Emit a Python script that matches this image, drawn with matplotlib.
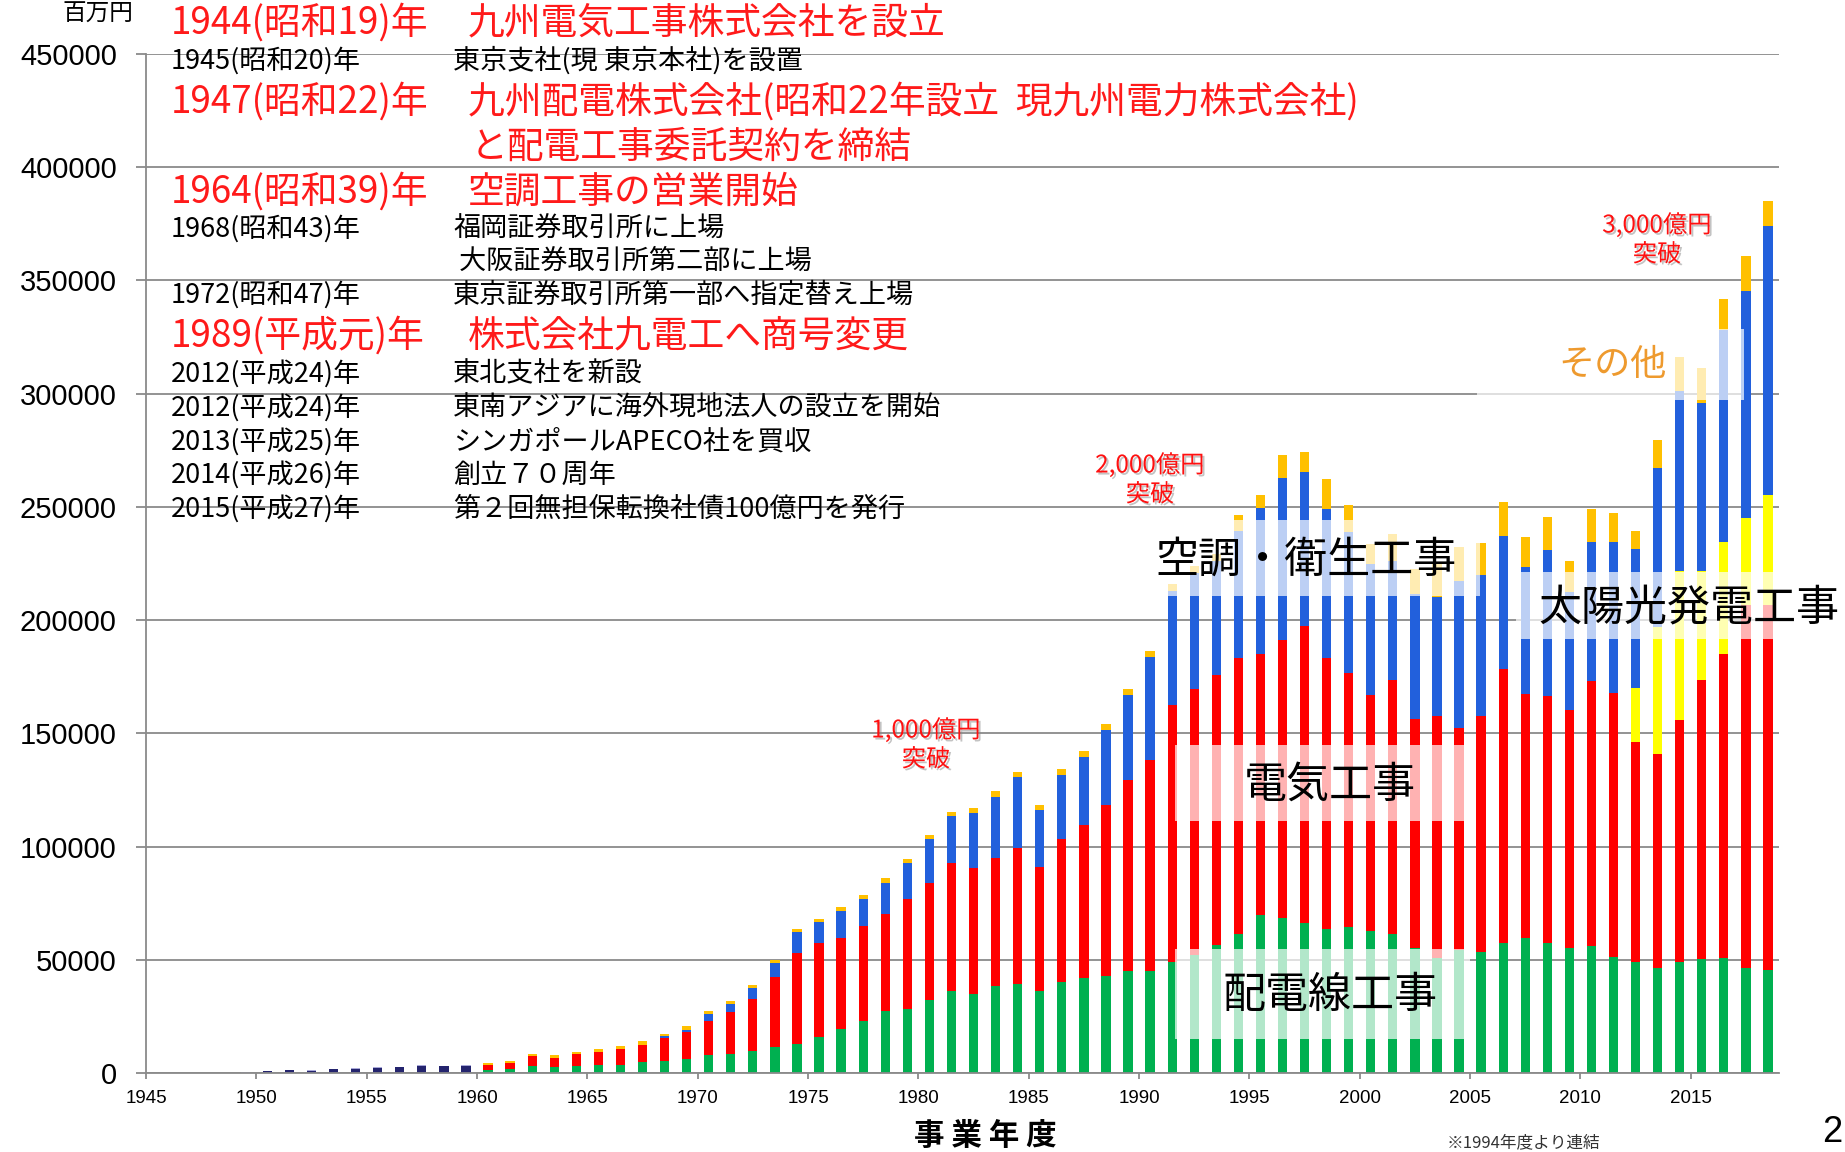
import numpy as np
import matplotlib
matplotlib.use("Agg")
import matplotlib.pyplot as plt
from matplotlib.patches import Rectangle
import matplotlib.patheffects as pe

plt.rcParams["font.family"] = ["Noto Sans CJK JP", "DejaVu Sans"]

W, H = 1845, 1152
LAT = ["Liberation Sans", "DejaVu Sans"]

# ---- data (百万円) ----
early_years = list(range(1949, 1960))
early_total = [0, 740, 1200, 1030, 1620, 1900, 2200, 2500, 3100, 2950, 3250]
early_cap   = [600, 250, 250, 250, 250, 250, 250, 250, 250, 250, 250]

years = list(range(1960, 2019))
haiden = [1500, 1900, 3200, 2650, 2900, 3400, 3700, 4700, 5150, 6200,
          7800, 8500, 9850, 11300, 12900, 15700, 19400, 23100, 27200, 28400,
          32200, 36300, 34800, 38200, 39300, 36100, 40000, 41900, 43000, 44900,
          45200, 49200, 51900, 56400, 61300, 69800, 68500, 66300, 63500, 64400,
          62600, 61600, 55000, 50800, 54200, 53600, 57500, 59800, 57200, 55000,
          56000, 51200, 48900, 46400, 49100, 50400, 50900, 46400, 45600]
denki = [1900, 2400, 4150, 3950, 5300, 5900, 7000, 7500, 10150, 11700,
         15300, 18400, 22750, 30900, 39900, 41500, 40400, 41600, 43200, 48300,
         51600, 56500, 55600, 56600, 59900, 54900, 63300, 67800, 75200, 84500,
         93000, 113400, 117500, 119400, 121900, 115300, 122700, 131300, 119700, 112300,
         104200, 111800, 101300, 106800, 98300, 104000, 121100, 107400, 109500, 105100,
         117300, 116400, 97300, 94400, 106900, 123200, 134300, 160400, 161200]
taiyo = [0] * 52 + [23600, 56300, 65600, 48000, 49500, 38200, 48500]
kucho = [0, 0, 0, 0, 0, 0, 0, 300, 900, 1200,
         2800, 3500, 4900, 6300, 9400, 9400, 11800, 12000, 13500, 15900,
         19400, 20500, 24500, 27000, 31300, 25000, 28500, 29900, 33200, 37600,
         45400, 50400, 51600, 50200, 56200, 64200, 71700, 67800, 65800, 62300,
         57900, 52800, 55200, 52700, 64900, 62300, 58600, 56300, 64300, 52100,
         61000, 67100, 61400, 70100, 79400, 74300, 93300, 100500, 118800]
sonota = [1000, 1100, 1050, 1200, 1200, 1300, 1200, 1500, 1000, 1500,
          1300, 1350, 1300, 1300, 1300, 1600, 1800, 1800, 2100, 1900,
          2100, 1900, 2100, 2600, 2400, 2400, 2400, 2500, 2600, 2400,
          2600, 2900, 2700, 3000, 6900, 5800, 9900, 9000, 13500, 11900,
          8800, 11800, 11000, 14400, 14700, 14100, 15000, 13000, 14700, 14000,
          14700, 12400, 8200, 12500, 15200, 15400, 13700, 15400, 10900]

series = [(haiden, "#00B050"), (denki, "#FF0000"), (taiyo, "#FFFF00"),
          (kucho, "#2260DC"), (sonota, "#FFC000")]

# company history shown top-left: (year text, event, big red?)
history = [
    ("1944(昭和19)年", "九州電気工事株式会社を設立", True),
    ("1945(昭和20)年", "東京支社(現 東京本社)を設置", False),
    ("1947(昭和22)年", "九州配電株式会社(昭和22年設立  現九州電力株式会社)", True),
    ("", "と配電工事委託契約を締結", True),
    ("1964(昭和39)年", "空調工事の営業開始", True),
    ("1968(昭和43)年", "福岡証券取引所に上場", False),
    ("", " 大阪証券取引所第二部に上場", False),
    ("1972(昭和47)年", "東京証券取引所第一部へ指定替え上場", False),
    ("1989(平成元)年", "株式会社九電工へ商号変更", True),
    ("2012(平成24)年", "東北支社を新設", False),
    ("2012(平成24)年", "東南アジアに海外現地法人の設立を開始", False),
    ("2013(平成25)年", "シンガポールAPECO社を買収", False),
    ("2014(平成26)年", "創立７０周年", False),
    ("2015(平成27)年", "第２回無担保転換社債100億円を発行", False),
]
history_y = [23, 61, 102, 147, 192, 229, 261, 295, 336, 374, 408, 442, 475, 509]

fig = plt.figure(figsize=(W / 100, H / 100), dpi=100)
ax = fig.add_axes([146 / W, 79 / H, 1633 / W, 1019 / H])

x = np.array(years) + 0.5
bw = 0.42
ex = np.array(early_years) + 0.5
ax.bar(ex, early_total, bw, color="#24246E", lw=0, zorder=2)
ax.bar(ex, early_cap, bw, bottom=early_total, color="#A9A9D8", lw=0, zorder=2)
bottom = np.zeros(len(years))
for vals, c in series:
    ax.bar(x, vals, bw, bottom=bottom, color=c, lw=0, zorder=2)
    bottom += np.array(vals)

ax.set_xlim(1945, 2019)
ax.set_ylim(0, 450000)
ax.set_yticks(range(0, 450001, 50000), [str(v) for v in range(0, 450001, 50000)],
              fontfamily=LAT, fontsize=21)
ax.set_xticks(range(1945, 2016, 5), [str(v) for v in range(1945, 2016, 5)],
              fontfamily=LAT, fontsize=13.5)
ax.yaxis.grid(True, color="#8a8a8a", lw=1.3)
ax.set_axisbelow(True)
for s in ("top", "right"):
    ax.spines[s].set_visible(False)
for s in ("left", "bottom"):
    ax.spines[s].set_color("#8a8a8a")
    ax.spines[s].set_linewidth(1.3)
ax.tick_params(axis="y", length=7, width=1.3, color="#8a8a8a", pad=14)
ax.tick_params(axis="x", length=4, width=1.3, color="#8a8a8a", pad=8)

# translucent label boxes over the bars
boxes = [
    (1991.28, 210700, 2005.47, 244300, "空調・衛生工事", "black", 31),
    (1991.65, 111300, 2005.02, 144900, "電気工事", "black", 31),
    (1991.65, 14800, 2005.02, 54550, "配電線工事", "black", 31),
    (2007.06, 191700, 2021.8, 221300, "太陽光発電工事", "black", 31),
    (2005.3, 297300, 2017.4, 328500, "その他", "#EE9A2E", 26),
]
box_text_px = [(1306, 561), (1330, 786), (1330, 996), (1689, 608), (1613, 365)]
for (x0, y0, x1, y1, lab, col, fs), (tx, ty) in zip(boxes, box_text_px):
    ax.add_patch(Rectangle((x0, y0), x1 - x0, y1 - y0, facecolor="white",
                           alpha=0.7, lw=0, zorder=3, clip_on=False))
    fig.text(tx / W, 1 - ty / H, lab, fontsize=fs, color=col, style="italic",
             ha="center", va="center", zorder=5)

# milestone callouts
shadow = [pe.SimplePatchShadow(offset=(1.5, -1.5), shadow_rgbFace="#888", alpha=0.5),
          pe.Normal()]
for lab, (tx, ty) in zip(["1,000億円\n突破", "2,000億円\n突破", "3,000億円\n突破"],
                         [(926, 745), (1150, 480), (1657, 240)]):
    fig.text(tx / W, 1 - ty / H, lab, fontsize=17.5, color="#FF1010", ha="center",
             va="center", linespacing=1.15, path_effects=shadow, zorder=5)

# history list
for (yr, ev, big), py in zip(history, history_y):
    col = "#FF1A1A" if big else "black"
    fs = 26.5 if big else 19.5
    ex_px = 468 if big else 453
    if yr:
        fig.text(171 / W, 1 - py / H, yr, fontsize=fs, color=col, va="center")
    if not yr and big:
        ex_px = 471
    fig.text(ex_px / W, 1 - py / H, ev, fontsize=fs, color=col, va="center")

fig.text(98 / W, 1 - 14 / H, "百万円", fontsize=17, ha="center", va="center")
fig.text(985 / W, 1 - 1136 / H, "事 業 年 度", fontsize=22, fontweight="bold",
         ha="center", va="center")
fig.text(1832 / W, 1 - 1132 / H, "2", fontsize=26, fontfamily=LAT,
         ha="center", va="center")
fig.text(1447 / W, 1 - 1151 / H, "※1994年度より連結", fontsize=12, color="#333",
         va="bottom")

fig.savefig("out.png", dpi=100, facecolor="white")
